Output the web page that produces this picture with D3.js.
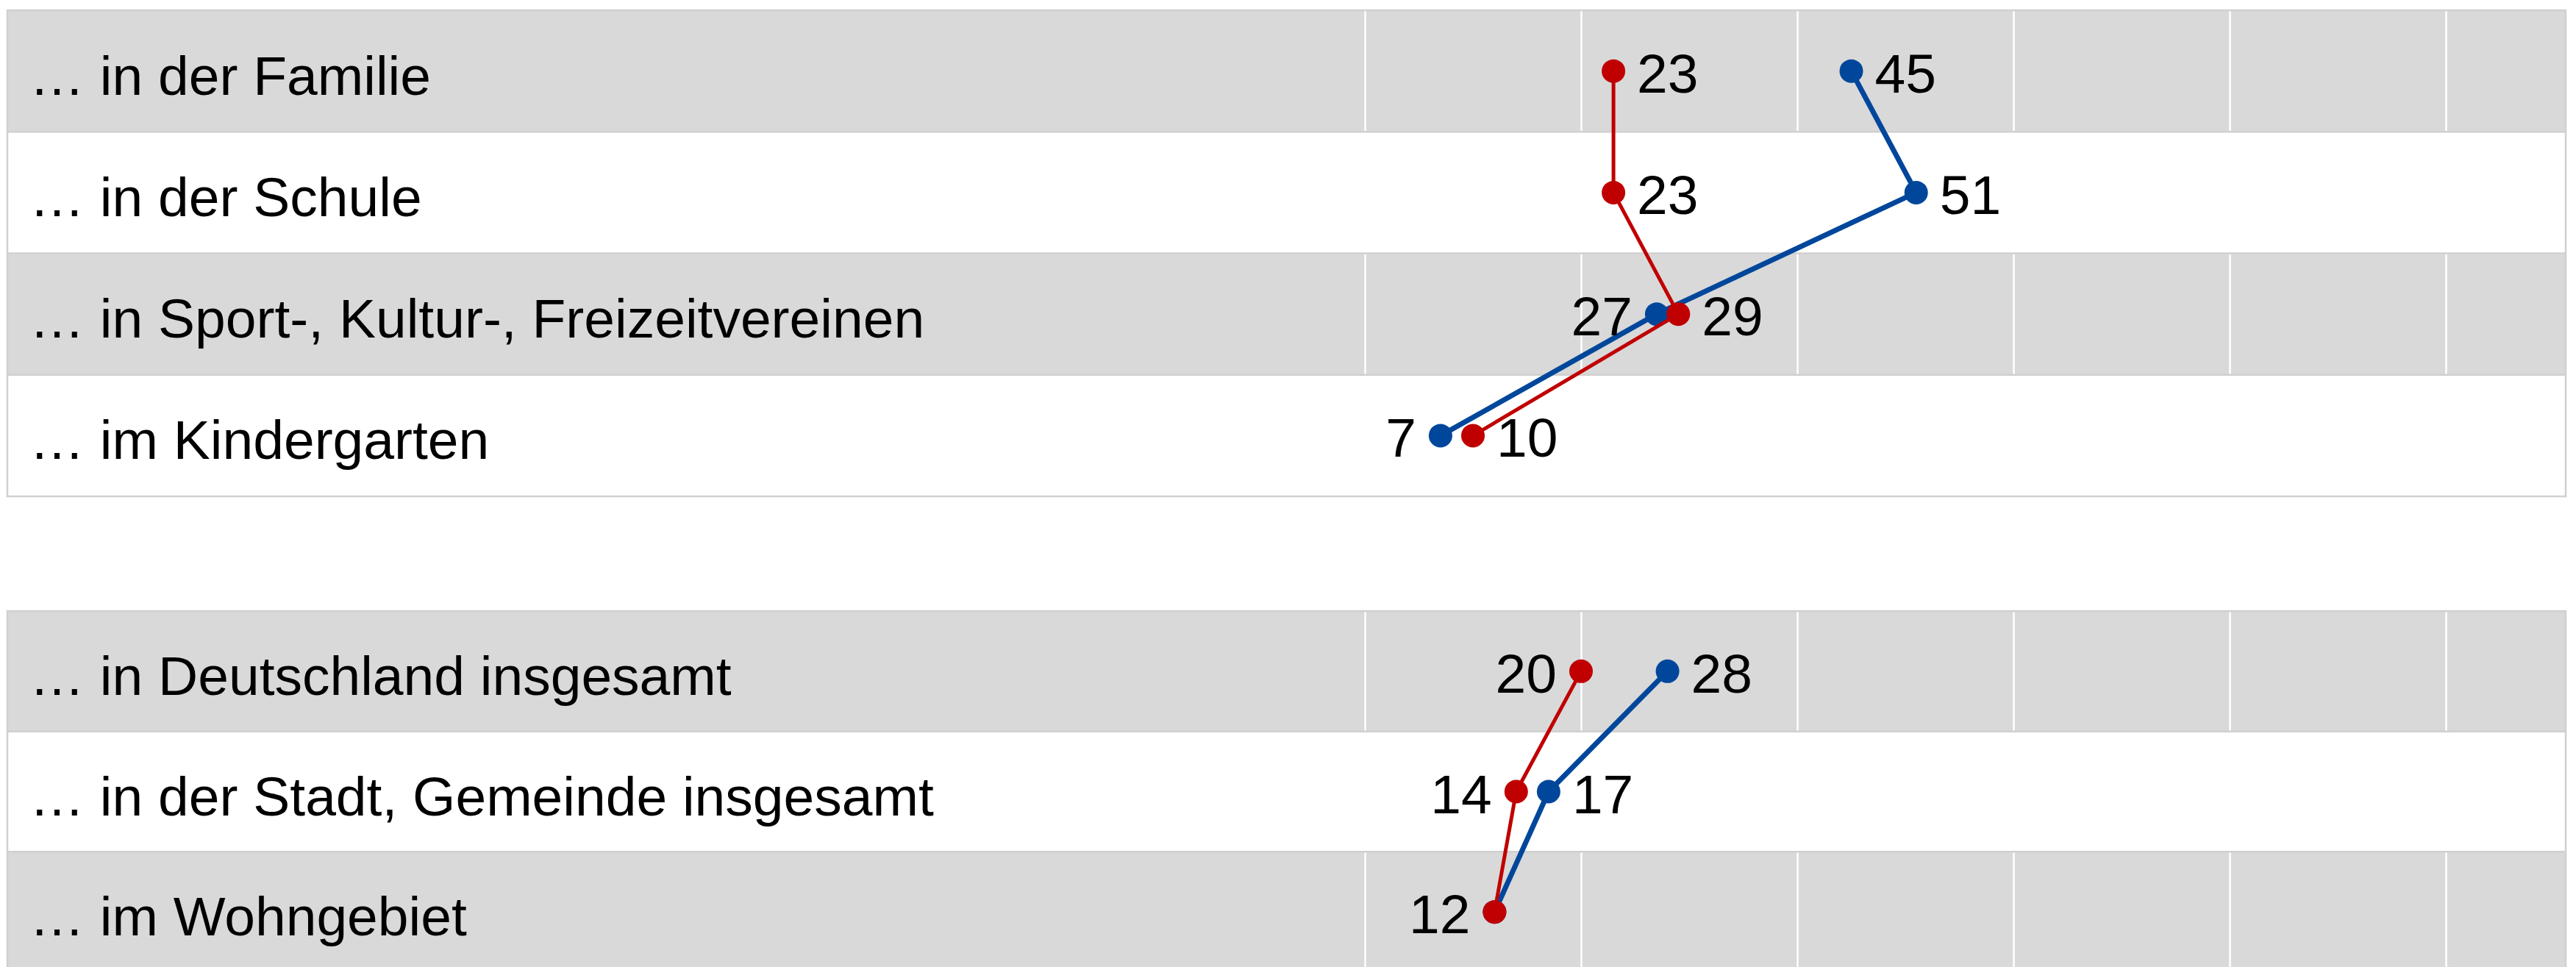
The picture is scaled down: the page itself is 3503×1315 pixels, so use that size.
<!DOCTYPE html>
<html>
<head>
<meta charset="utf-8">
<script src="https://cdn.jsdelivr.net/npm/d3@7"></script>
<style>
  html, body { margin: 0; padding: 0; background: #ffffff; }
  svg { display: block; }
  text { font-family: "Liberation Sans", Arial, sans-serif; }
</style>
</head>
<body>
<svg id="chart" width="3503" height="1315"></svg>
<script>
// ---- Data ----
const categoriesTop = [
  "… in der Familie",
  "… in der Schule",
  "… in Sport-, Kultur-, Freizeitvereinen",
  "… im Kindergarten"
];
const blueTop = [45, 51, 27, 7];
const redTop = [23, 23, 29, 10];
const blueTopLabelSide = ["right", "right", "left", "left"];
const redTopLabelSide = ["right", "right", "right", "right"];

const categoriesBottom = [
  "… in Deutschland insgesamt",
  "… in der Stadt, Gemeinde insgesamt",
  "… im Wohngebiet"
];
const blueBottom = [28, 17, 12];
const redBottom = [20, 14, 12];
const blueBottomLabelSide = ["right", "right", "none"];
const redBottomLabelSide = ["left", "left", "left"];

const gridTicks = [0, 20, 40, 60, 80, 100];

// ---- Layout / style ----
const W = 3503, H = 1315;
const panelLeft = 10, panelRight = 3489;
const RED = "#C00000", BLUE = "#00479B";
const GRAY = "#D9D9D9", BORDER = "#D0D0D0";
const FONT = 75;

const svg = d3.select("#chart");
svg.append("rect").attr("width", W).attr("height", H).attr("fill", "#fff");

const x = d3.scaleLinear().domain([0, 100]).range([1856, 3326]);

function panel(categories, series, top, bottom) {
  const y = d3.scaleBand().domain(categories).range([top, bottom]).padding(0);
  const g = svg.append("g");

  // row backgrounds
  g.selectAll("rect.row").data(categories).join("rect")
    .attr("class", "row")
    .attr("x", panelLeft).attr("width", panelRight - panelLeft)
    .attr("y", d => y(d)).attr("height", y.bandwidth())
    .attr("fill", (d, i) => i % 2 === 0 ? GRAY : "#ffffff");

  // vertical gridlines (white)
  const axis = d3.axisTop(x).tickValues(gridTicks)
    .tickSize(-(bottom - top)).tickFormat("");
  const ag = g.append("g").attr("transform", `translate(0,${top})`).call(axis);
  ag.select(".domain").remove();
  ag.selectAll(".tick line").attr("stroke", "#ffffff").attr("stroke-width", 2.5);

  // row separators
  g.selectAll("line.sep").data(categories.slice(1)).join("line")
    .attr("class", "sep")
    .attr("x1", panelLeft).attr("x2", panelRight)
    .attr("y1", d => y(d)).attr("y2", d => y(d))
    .attr("stroke", BORDER).attr("stroke-width", 2.5);

  // border
  g.append("rect")
    .attr("x", panelLeft).attr("y", top)
    .attr("width", panelRight - panelLeft).attr("height", bottom - top)
    .attr("fill", "none").attr("stroke", BORDER).attr("stroke-width", 2.5);

  // category labels
  g.selectAll("text.cat").data(categories).join("text")
    .attr("class", "cat")
    .attr("x", 40)
    .attr("y", d => y(d) + y.bandwidth() / 2 + 32)
    .attr("font-size", FONT).attr("fill", "#000")
    .text(d => d);

  // series: blue first, then red on top
  series.forEach(s => {
    const pts = s.values.map((v, i) => ({ v, cat: categories[i], side: s.sides[i] }));
    const line = d3.line()
      .x(d => x(d.v))
      .y(d => y(d.cat) + y.bandwidth() / 2);
    g.append("path").datum(pts)
      .attr("d", line).attr("fill", "none")
      .attr("stroke", s.color).attr("stroke-width", s.width)
      .attr("stroke-linejoin", "round");
    g.selectAll(null).data(pts).join("circle")
      .attr("cx", d => x(d.v))
      .attr("cy", d => y(d.cat) + y.bandwidth() / 2)
      .attr("r", 16).attr("fill", s.color);
    g.selectAll(null).data(pts.filter(d => d.side !== "none")).join("text")
      .attr("x", d => x(d.v) + (d.side === "left" ? -33 : 32))
      .attr("y", d => y(d.cat) + y.bandwidth() / 2 + 29)
      .attr("text-anchor", d => d.side === "left" ? "end" : "start")
      .attr("font-size", FONT).attr("fill", "#000")
      .text(d => d.v);
  });
}

panel(categoriesTop, [
  { values: blueTop, sides: blueTopLabelSide, color: BLUE, width: 7 },
  { values: redTop, sides: redTopLabelSide, color: RED, width: 5 }
], 14, 675);

panel(categoriesBottom, [
  { values: blueBottom, sides: blueBottomLabelSide, color: BLUE, width: 7 },
  { values: redBottom, sides: redBottomLabelSide, color: RED, width: 5 }
], 831, 1322);
</script>
</body>
</html>
